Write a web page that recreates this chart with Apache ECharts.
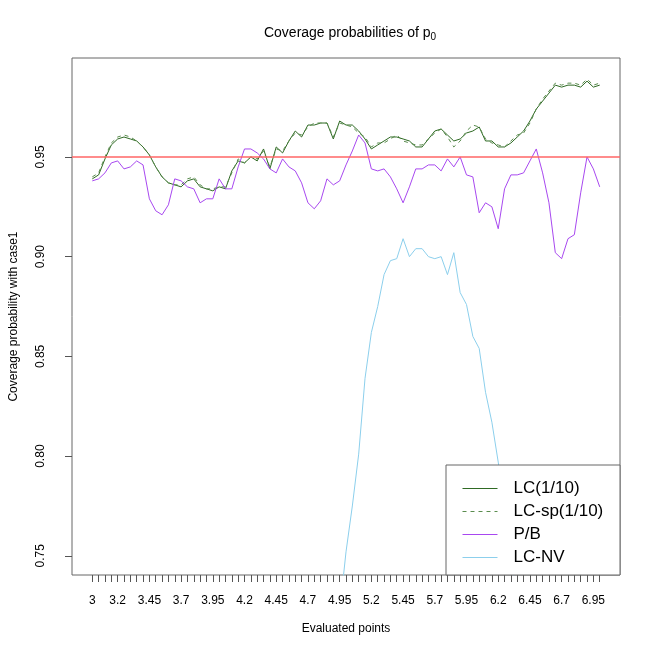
<!DOCTYPE html>
<html>
<head>
<meta charset="utf-8">
<script src="https://cdn.jsdelivr.net/npm/echarts@6/dist/echarts.min.js"></script>
<style>
html, body { margin: 0; padding: 0; background: #fff; }
#chart { width: 650px; height: 650px; }
</style>
</head>
<body>
<div id="chart"></div>
<script>
// evaluated points
var xPoints = [3, 3.05, 3.1, 3.15, 3.2, 3.25, 3.3, 3.35, 3.4, 3.45,
    3.5, 3.55, 3.6, 3.65, 3.7, 3.75, 3.8, 3.85, 3.9, 3.95,
    4, 4.05, 4.1, 4.15, 4.2, 4.25, 4.3, 4.35, 4.4, 4.45,
    4.5, 4.55, 4.6, 4.65, 4.7, 4.75, 4.8, 4.85, 4.9, 4.95,
    5, 5.05, 5.1, 5.15, 5.2, 5.25, 5.3, 5.35, 5.4, 5.45,
    5.5, 5.55, 5.6, 5.65, 5.7, 5.75, 5.8, 5.85, 5.9, 5.95,
    6, 6.05, 6.1, 6.15, 6.2, 6.25, 6.3, 6.35, 6.4, 6.45,
    6.5, 6.55, 6.6, 6.65, 6.7, 6.75, 6.8, 6.85, 6.9, 6.95, 7];
var xLabels = [3, 3.2, 3.45, 3.7, 3.95, 4.2, 4.45, 4.7, 4.95, 5.2, 5.45, 5.7, 5.95, 6.2, 6.45, 6.7, 6.95];
var yTicks = [0.75, 0.8, 0.85, 0.9, 0.95];
var nominal = 0.95;

var lc = [0.939, 0.941, 0.949, 0.956, 0.959, 0.960, 0.959, 0.958, 0.955, 0.951,
    0.945, 0.940, 0.937, 0.936, 0.935, 0.938, 0.939, 0.935, 0.934, 0.933,
    0.935, 0.934, 0.943, 0.948, 0.947, 0.950, 0.948, 0.954, 0.944, 0.955,
    0.952, 0.958, 0.963, 0.960, 0.966, 0.966, 0.967, 0.967, 0.959, 0.968,
    0.966, 0.966, 0.963, 0.959, 0.954, 0.956, 0.958, 0.960, 0.960, 0.959,
    0.958, 0.955, 0.955, 0.959, 0.963, 0.964, 0.961, 0.958, 0.959, 0.962,
    0.963, 0.965, 0.958, 0.958, 0.955, 0.955, 0.957, 0.960, 0.963, 0.968,
    0.974, 0.978, 0.982, 0.986, 0.985, 0.986, 0.986, 0.985, 0.988, 0.985, 0.986];
var lcSp = [0.940, 0.942, 0.950, 0.957, 0.960, 0.961, 0.960, 0.958, 0.955, 0.951,
    0.945, 0.940, 0.937, 0.936, 0.936, 0.939, 0.940, 0.936, 0.934, 0.934,
    0.935, 0.935, 0.942, 0.949, 0.947, 0.950, 0.949, 0.953, 0.945, 0.954,
    0.953, 0.958, 0.962, 0.961, 0.965, 0.967, 0.967, 0.967, 0.960, 0.967,
    0.966, 0.965, 0.962, 0.960, 0.955, 0.957, 0.957, 0.959, 0.961, 0.958,
    0.957, 0.956, 0.956, 0.959, 0.962, 0.964, 0.960, 0.955, 0.958, 0.963,
    0.966, 0.965, 0.959, 0.957, 0.956, 0.955, 0.958, 0.961, 0.962, 0.967,
    0.974, 0.979, 0.983, 0.987, 0.986, 0.987, 0.987, 0.986, 0.989, 0.986, 0.987];
var pb = [0.938, 0.939, 0.942, 0.947, 0.948, 0.944, 0.945, 0.948, 0.946, 0.929,
    0.923, 0.921, 0.926, 0.939, 0.938, 0.935, 0.934, 0.927, 0.929, 0.929,
    0.939, 0.934, 0.934, 0.945, 0.954, 0.954, 0.952, 0.949, 0.944, 0.942,
    0.949, 0.945, 0.943, 0.937, 0.927, 0.924, 0.928, 0.939, 0.936, 0.938,
    0.946, 0.953, 0.961, 0.957, 0.944, 0.943, 0.944, 0.940, 0.934, 0.927,
    0.935, 0.944, 0.944, 0.946, 0.946, 0.943, 0.949, 0.945, 0.950, 0.941,
    0.940, 0.922, 0.927, 0.925, 0.914, 0.934, 0.941, 0.941, 0.942, 0.948,
    0.954, 0.942, 0.927, 0.902, 0.899, 0.909, 0.911, 0.932, 0.950, 0.944, 0.935];
// LC-NV: values below the plotted range are not readable, left empty
var lcNv = [null, null, null, null, null, null, null, null, null, null,
    null, null, null, null, null, null, null, null, null, null,
    null, null, null, null, null, null, null, null, null, null,
    null, null, null, null, null, null, null, null, null, 0.722,
    0.752, 0.775, 0.801, 0.839, 0.862, 0.875, 0.891, 0.898, 0.899, 0.909,
    0.900, 0.904, 0.904, 0.900, 0.899, 0.900, 0.891, 0.902, 0.882, 0.876,
    0.860, 0.854, 0.832, 0.817, 0.797, 0.775, 0.752, 0.725, null, null,
    null, null, null, null, null, null, null, null, null, null, null];

function pairs(vals) {
    return xPoints.map(function (x, i) { return [x, vals[i]]; });
}

var chart = echarts.init(document.getElementById('chart'), null, {renderer: 'canvas'});
var font = 'Liberation Sans, Arial, sans-serif';

var option = {
    backgroundColor: '#fff',
    animation: false,
    textStyle: {fontFamily: font},
    title: {
        text: '{a|Coverage probabilities of p}{b|0}',
        left: 345,
        top: 19,
        textAlign: 'center',
        textStyle: {
            rich: {
                a: {fontSize: 14, fontFamily: font, color: '#000', fontWeight: 'normal'},
                b: {fontSize: 10, fontFamily: font, color: '#000', fontWeight: 'normal', padding: [8, 0, 0, 0]}
            }
        }
    },
    grid: {
        left: 60, right: 30, top: 58, bottom: 75,
        show: true, borderColor: '#666', borderWidth: 1
    },
    xAxis: {
        type: 'value',
        min: 2.84, max: 7.16,
        name: 'Evaluated points',
        nameLocation: 'middle',
        nameGap: 48,
        nameTextStyle: {fontSize: 12, color: '#000'},
        axisLine: {show: false},
        splitLine: {show: false},
        axisTick: {show: true, length: 7, customValues: xPoints, lineStyle: {color: '#555'}},
        axisLabel: {
            customValues: xLabels, fontSize: 12, color: '#000', margin: 20,
            formatter: function (v) { return String(+v.toFixed(2)); }
        }
    },
    yAxis: {
        type: 'value',
        min: 0.7404, max: 0.9996,
        name: 'Coverage probability with case1',
        nameLocation: 'middle',
        nameGap: 52,
        nameTextStyle: {fontSize: 12, color: '#000'},
        axisLine: {show: false},
        splitLine: {show: false},
        axisTick: {show: true, length: 7, customValues: yTicks, lineStyle: {color: '#555'}},
        axisLabel: {
            customValues: yTicks, fontSize: 12, color: '#000', rotate: 90, margin: 25,
            formatter: function (v) { return v.toFixed(2); }
        }
    },
    legend: {
        orient: 'vertical',
        left: 446, top: 465,
        z: 10,
        padding: [15, 10, 10, 16],
        itemWidth: 35,
        itemHeight: 14,
        itemGap: 6,
        itemStyle: {opacity: 0},
        lineStyle: {width: 1},
        textStyle: {fontSize: 17, color: '#000', padding: [0, 0, 0, 11]},
        data: ['LC(1/10)', 'LC-sp(1/10)', 'P/B', 'LC-NV']
    },
    graphic: [{
        type: 'rect',
        z: 5,
        shape: {x: 446, y: 465, width: 174, height: 110},
        style: {fill: '#fff', stroke: '#666', lineWidth: 1}
    }],
    series: [
        {
            name: 'LC(1/10)', type: 'line', data: pairs(lc),
            symbol: 'none', lineStyle: {color: '#2f6a24', width: 1}, itemStyle: {color: '#2f6a24'},
            markLine: {
                silent: true, symbol: 'none', label: {show: false},
                lineStyle: {color: '#ff6666', width: 1.5, type: 'solid'},
                data: [{yAxis: nominal}]
            }
        },
        {
            name: 'LC-sp(1/10)', type: 'line', data: pairs(lcSp),
            symbol: 'none', lineStyle: {color: '#5a8c4e', width: 1, type: [4, 4]}, itemStyle: {color: '#5a8c4e'}
        },
        {
            name: 'P/B', type: 'line', data: pairs(pb),
            symbol: 'none', lineStyle: {color: '#a848f0', width: 1}, itemStyle: {color: '#a848f0'}
        },
        {
            name: 'LC-NV', type: 'line', data: pairs(lcNv),
            symbol: 'none', lineStyle: {color: '#8ccfec', width: 1}, itemStyle: {color: '#8ccfec'}
        }
    ]
};
chart.setOption(option);
</script>
</body>
</html>
